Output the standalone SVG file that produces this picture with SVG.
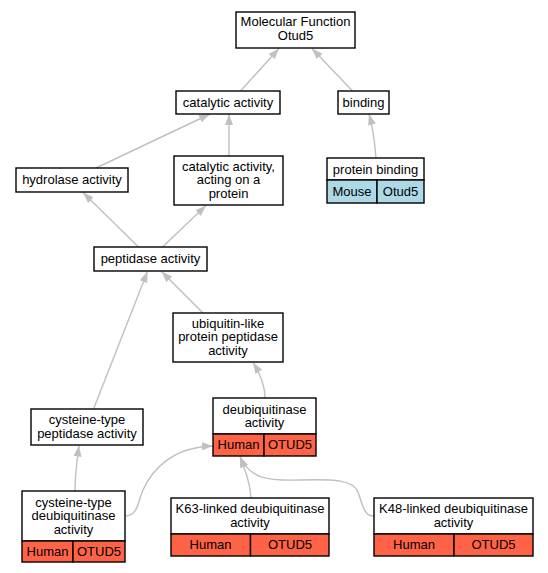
<svg xmlns="http://www.w3.org/2000/svg" width="548" height="573" viewBox="0 0 548 573">
<defs>
<marker id="arr" markerUnits="userSpaceOnUse" markerWidth="12" markerHeight="9" refX="11" refY="4" orient="auto">
<path d="M0,0 L11,4 L0,8 z" fill="#c0c0c0"/>
</marker>
</defs>
<style>
rect{stroke:#000;stroke-width:1.4;fill:#fff}
rect.hu{fill:#ff6347}
rect.mo{fill:#add8e6}
text{font-family:"Liberation Sans",Arial,sans-serif;font-size:13px;fill:#000;text-anchor:middle}
#edges path{fill:none;stroke:#c0c0c0;stroke-width:1.4;marker-end:url(#arr)}
</style>
<rect x="0" y="0" width="548" height="573" style="fill:#fff;stroke:none"/>
<g id="edges">
<path d="M240.5,91 L279,48.5"/>
<path d="M352.5,91 L312,48.5"/>
<path d="M96,168 L210,114"/>
<path d="M229,156 L229,114"/>
<path d="M376,158 C375,145 373,128 369,114"/>
<path d="M138.5,247 L83,192.5"/>
<path d="M162.5,247 L206,205.5"/>
<path d="M203,313 L161.5,271.5"/>
<path d="M93.5,409 L147.5,271.5"/>
<path d="M265,398 C265,385 259,372 253,362.5"/>
<path d="M75,491 C75,478 77,460 79,445.5"/>
<path d="M125.5,516 C138,516 138,501 143,490 C152,470 172,447 213,446"/>
<path d="M251,498 C250,482 245,470 240,456.5"/>
<path d="M374,516 C363,516 362,502 358,492 C353,480 335,479 300,480 C268,481 250,479 240,456.5"/>
</g>
<g id="n_mf">
<rect x="236" y="12" width="119" height="36"/>
<text x="295.5" y="26">Molecular Function</text>
<text x="295.5" y="39.5">Otud5</text>
</g>
<g id="n_catalytic">
<rect x="176" y="91" width="104" height="23"/>
<text x="228" y="106.5">catalytic activity</text>
</g>
<g id="n_binding">
<rect x="338" y="91" width="51" height="23"/>
<text x="363.5" y="106.5">binding</text>
</g>
<g id="n_hydrolase">
<rect x="16" y="168" width="112" height="24"/>
<text x="72" y="184">hydrolase activity</text>
</g>
<g id="n_catprot">
<rect x="174" y="156" width="109" height="49"/>
<text x="228.5" y="170.5">catalytic activity,</text>
<text x="228.5" y="184">acting on a</text>
<text x="228.5" y="197.5">protein</text>
</g>
<g id="n_protbinding">
<rect x="327" y="158" width="97" height="22"/>
<rect class="mo" x="327" y="180" width="50" height="23"/>
<rect class="mo" x="377" y="180" width="47" height="23"/>
<text x="375.5" y="173.5">protein binding</text>
<text x="352" y="196">Mouse</text>
<text x="400.5" y="196">Otud5</text>
</g>
<g id="n_peptidase">
<rect x="94" y="247" width="113" height="24"/>
<text x="150.5" y="263">peptidase activity</text>
</g>
<g id="n_ubiq">
<rect x="173" y="313" width="110" height="49"/>
<text x="228" y="327.5">ubiquitin-like</text>
<text x="228" y="341">protein peptidase</text>
<text x="228" y="354.5">activity</text>
</g>
<g id="n_cyspep">
<rect x="31" y="409" width="112" height="36"/>
<text x="87" y="424">cysteine-type</text>
<text x="87" y="437.5">peptidase activity</text>
</g>
<g id="n_deubiq">
<rect x="213" y="398" width="103" height="36"/>
<rect class="hu" x="213" y="434" width="51" height="22"/>
<rect class="hu" x="264" y="434" width="52" height="22"/>
<text x="264.5" y="413.5">deubiquitinase</text>
<text x="264.5" y="427">activity</text>
<text x="238.5" y="449">Human</text>
<text x="290" y="449">OTUD5</text>
</g>
<g id="n_cysdeubiq">
<rect x="22" y="491" width="103" height="50"/>
<rect class="hu" x="22" y="541" width="51" height="21"/>
<rect class="hu" x="73" y="541" width="52" height="21"/>
<text x="73.5" y="506.5">cysteine-type</text>
<text x="73.5" y="520">deubiquitinase</text>
<text x="73.5" y="533.5">activity</text>
<text x="47.5" y="556">Human</text>
<text x="99" y="556">OTUD5</text>
</g>
<g id="n_k63">
<rect x="171" y="498" width="158" height="36"/>
<rect class="hu" x="171" y="534" width="79.5" height="22"/>
<rect class="hu" x="250.5" y="534" width="78.5" height="22"/>
<text x="250" y="513">K63-linked deubiquitinase</text>
<text x="250" y="526.5">activity</text>
<text x="210.5" y="549">Human</text>
<text x="290" y="549">OTUD5</text>
</g>
<g id="n_k48">
<rect x="374" y="498" width="159" height="36"/>
<rect class="hu" x="374" y="534" width="80" height="22"/>
<rect class="hu" x="454" y="534" width="79" height="22"/>
<text x="453.5" y="513">K48-linked deubiquitinase</text>
<text x="453.5" y="526.5">activity</text>
<text x="414" y="549">Human</text>
<text x="493.5" y="549">OTUD5</text>
</g>
</svg>
